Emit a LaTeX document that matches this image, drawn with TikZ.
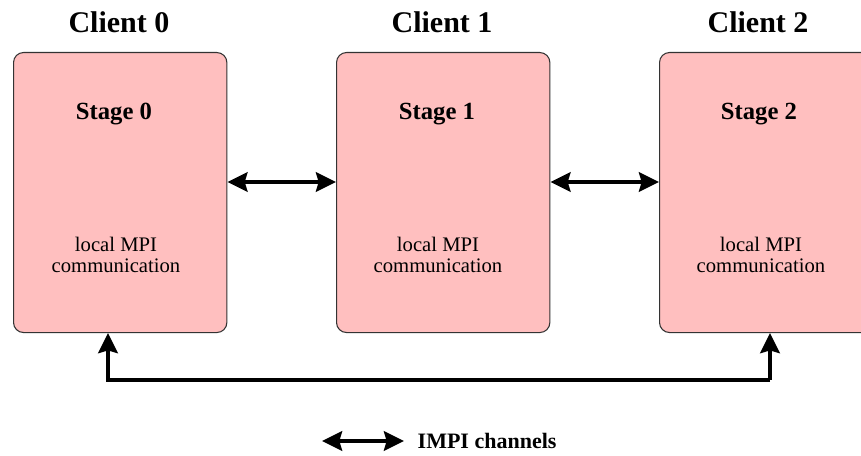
\documentclass[tikz,border=0pt]{standalone}
\usepackage{fontspec}
\setmainfont{Liberation Serif}
\usetikzlibrary{arrows.meta}
\definecolor{boxpink}{HTML}{FFBFBF}
\begin{document}
\begin{tikzpicture}[x=0.75pt,y=-0.75pt,
  stagebox/.style={draw=black!80, line width=0.8pt, fill=boxpink, rounded corners=7.5pt,
     minimum width=160pt, minimum height=210pt, inner sep=0pt, anchor=north west},
  title/.style={font=\fontsize{22.5}{26}\selectfont\bfseries},
  stagelbl/.style={font=\fontsize{18.5}{22}\selectfont\bfseries},
  local/.style={font=\fontsize{15.5}{15.8}\selectfont, align=center},
  tip/.tip={Stealth[length=15pt,width=14.5pt,inset=2pt]},
  link/.style={line width=3pt, tip-tip},
  uplink/.style={line width=3pt, -tip}]
\useasboundingbox (0,0) rectangle (861,456);
\clip (0,0) rectangle (861,456);
\node[stagebox] (b0) at (13,52) {};
\node[stagebox] (b1) at (336,52) {};
\node[stagebox] (b2) at (659,52) {};
\node[title] (c0) at (119,22) {Client 0};
\node[title] (c1) at (442,22) {Client 1};
\node[title] (c2) at (758,22) {Client 2};
\node[stagelbl] (s0) at (114,114) {Stage 0};
\node[stagelbl] (s1) at (437,114) {Stage 1};
\node[stagelbl] (s2) at (759,114) {Stage 2};
\node[local] (l0) at (116,255) {local MPI\\communication};
\node[local] (l1) at (438,255) {local MPI\\communication};
\node[local] (l2) at (761,255) {local MPI\\communication};
\draw[link] (b0.east |- 0,182) -- (b1.west |- 0,182);
\draw[link] (b1.east |- 0,182) -- (b2.west |- 0,182);
\coordinate (d0) at (108,380);
\coordinate (d2) at (770,380);
\draw[uplink, line join=miter] (d2) -- (d0) -- (b0.south -| d0);
\draw[uplink] (d2) -- (b2.south -| d2);
\coordinate (la) at (322,441);
\coordinate (lb) at (404,441);
\draw[link] (la) -- (lb);
\node[font=\fontsize{16.5}{20}\selectfont\bfseries, anchor=west] (leg) at (413,441) {IMPI channels};
\end{tikzpicture}
\end{document}
